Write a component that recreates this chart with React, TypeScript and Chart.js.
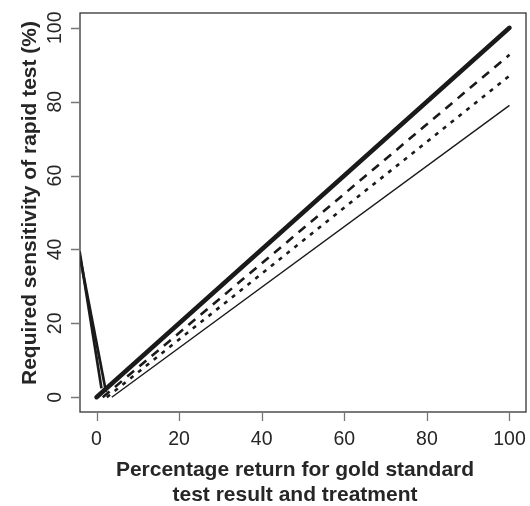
import React, { useEffect, useRef } from "react";
import { Chart, registerables } from "chart.js";

Chart.register(...registerables);

const xTicks = [0, 20, 40, 60, 80, 100];
const yTicks = [0, 20, 40, 60, 80, 100];
const xTitle = ["Percentage return for gold standard", "test result and treatment"];
const yTitle = "Required sensitivity of rapid test (%)";

const thickSolidX = [0, 100];
const thickSolidY = [0, 100];
const dashedX = [1.5, 100];
const dashedY = [0, 92.7];
const dottedX = [2.5, 100];
const dottedY = [0, 87];
const thinSolidX = [3.7, 100];
const thinSolidY = [0, 79];
const vLineAX = [-4.1, 1.2];
const vLineAY = [39.5, 2.4];
const vLineBX = [-4.1, 2.3];
const vLineBY = [38.5, 1.4];

const pts = (xs: number[], ys: number[]) => xs.map((x, i) => ({ x, y: ys[i] }));

const FONT = "'Liberation Sans', Arial, sans-serif";
const TEXT = "#262626";

const axesPlugin = {
  id: "rAxes",
  afterDraw(chart: any) {
    const { ctx, chartArea: a, scales } = chart;
    const xs = scales.x;
    const ys = scales.y;
    ctx.save();
    ctx.strokeStyle = "#333";
    ctx.lineWidth = 1.3;
    ctx.strokeRect(a.left, a.top, a.right - a.left, a.bottom - a.top);
    ctx.strokeStyle = "#777";
    ctx.lineWidth = 1.3;
    ctx.beginPath();
    xTicks.forEach((v) => {
      const px = Math.round(xs.getPixelForValue(v)) + 0.5;
      ctx.moveTo(px, a.bottom);
      ctx.lineTo(px, a.bottom + 9);
    });
    yTicks.forEach((v) => {
      const py = Math.round(ys.getPixelForValue(v)) + 0.5;
      ctx.moveTo(a.left, py);
      ctx.lineTo(a.left - 9, py);
    });
    ctx.stroke();
    ctx.fillStyle = TEXT;
    ctx.font = `19.5px ${FONT}`;
    ctx.textAlign = "center";
    ctx.textBaseline = "middle";
    xTicks.forEach((v) => {
      ctx.fillText(String(v), xs.getPixelForValue(v), a.bottom + 28);
    });
    yTicks.forEach((v) => {
      ctx.save();
      ctx.translate(a.left - 24, ys.getPixelForValue(v));
      ctx.rotate(-Math.PI / 2);
      ctx.fillText(String(v), 0, 0);
      ctx.restore();
    });
    ctx.font = `bold 21px ${FONT}`;
    const cx = (xs.getPixelForValue(0) + xs.getPixelForValue(100)) / 2;
    ctx.fillText(xTitle[0], cx - 8, a.bottom + 58);
    ctx.fillText(xTitle[1], cx - 8, a.bottom + 83);
    ctx.save();
    ctx.translate(a.left - 50, a.top + 190);
    ctx.rotate(-Math.PI / 2);
    ctx.fillText(yTitle, 0, 0);
    ctx.restore();
    ctx.restore();
  },
};

export default function App() {
  const ref = useRef<HTMLCanvasElement>(null);
  useEffect(() => {
    document.body.style.margin = "0";
    const c = new Chart(ref.current!, {
      type: "line",
      data: {
        datasets: [
          { data: pts(thickSolidX, thickSolidY), borderColor: "#1a1a1a", borderWidth: 4.5, borderCapStyle: "round" },
          { data: pts(dashedX, dashedY), borderColor: "#1a1a1a", borderWidth: 2.6, borderDash: [9, 7] },
          { data: pts(dottedX, dottedY), borderColor: "#1a1a1a", borderWidth: 2.6, borderDash: [4, 6] },
          { data: pts(thinSolidX, thinSolidY), borderColor: "#1a1a1a", borderWidth: 1.4 },
          { data: pts(vLineAX, vLineAY), borderColor: "#1a1a1a", borderWidth: 2.7 },
          { data: pts(vLineBX, vLineBY), borderColor: "#1a1a1a", borderWidth: 2.7 },
        ] as any,
      },
      options: {
        animation: false,
        responsive: false,
        devicePixelRatio: 1,
        layout: { padding: { left: 80, right: 4, top: 13, bottom: 94 } },
        elements: { point: { radius: 0 }, line: { tension: 0 } },
        plugins: { legend: { display: false }, tooltip: { enabled: false } },
        scales: {
          x: { type: "linear", min: -4, max: 104, display: false },
          y: { type: "linear", min: -4, max: 104, display: false },
        },
      },
      plugins: [axesPlugin],
    });
    return () => c.destroy();
  }, []);
  return (
    <div style={{ position: "absolute", left: 0, top: 0, width: 530, height: 506, background: "#fff" }}>
      <canvas ref={ref} width={530} height={506} />
    </div>
  );
}
